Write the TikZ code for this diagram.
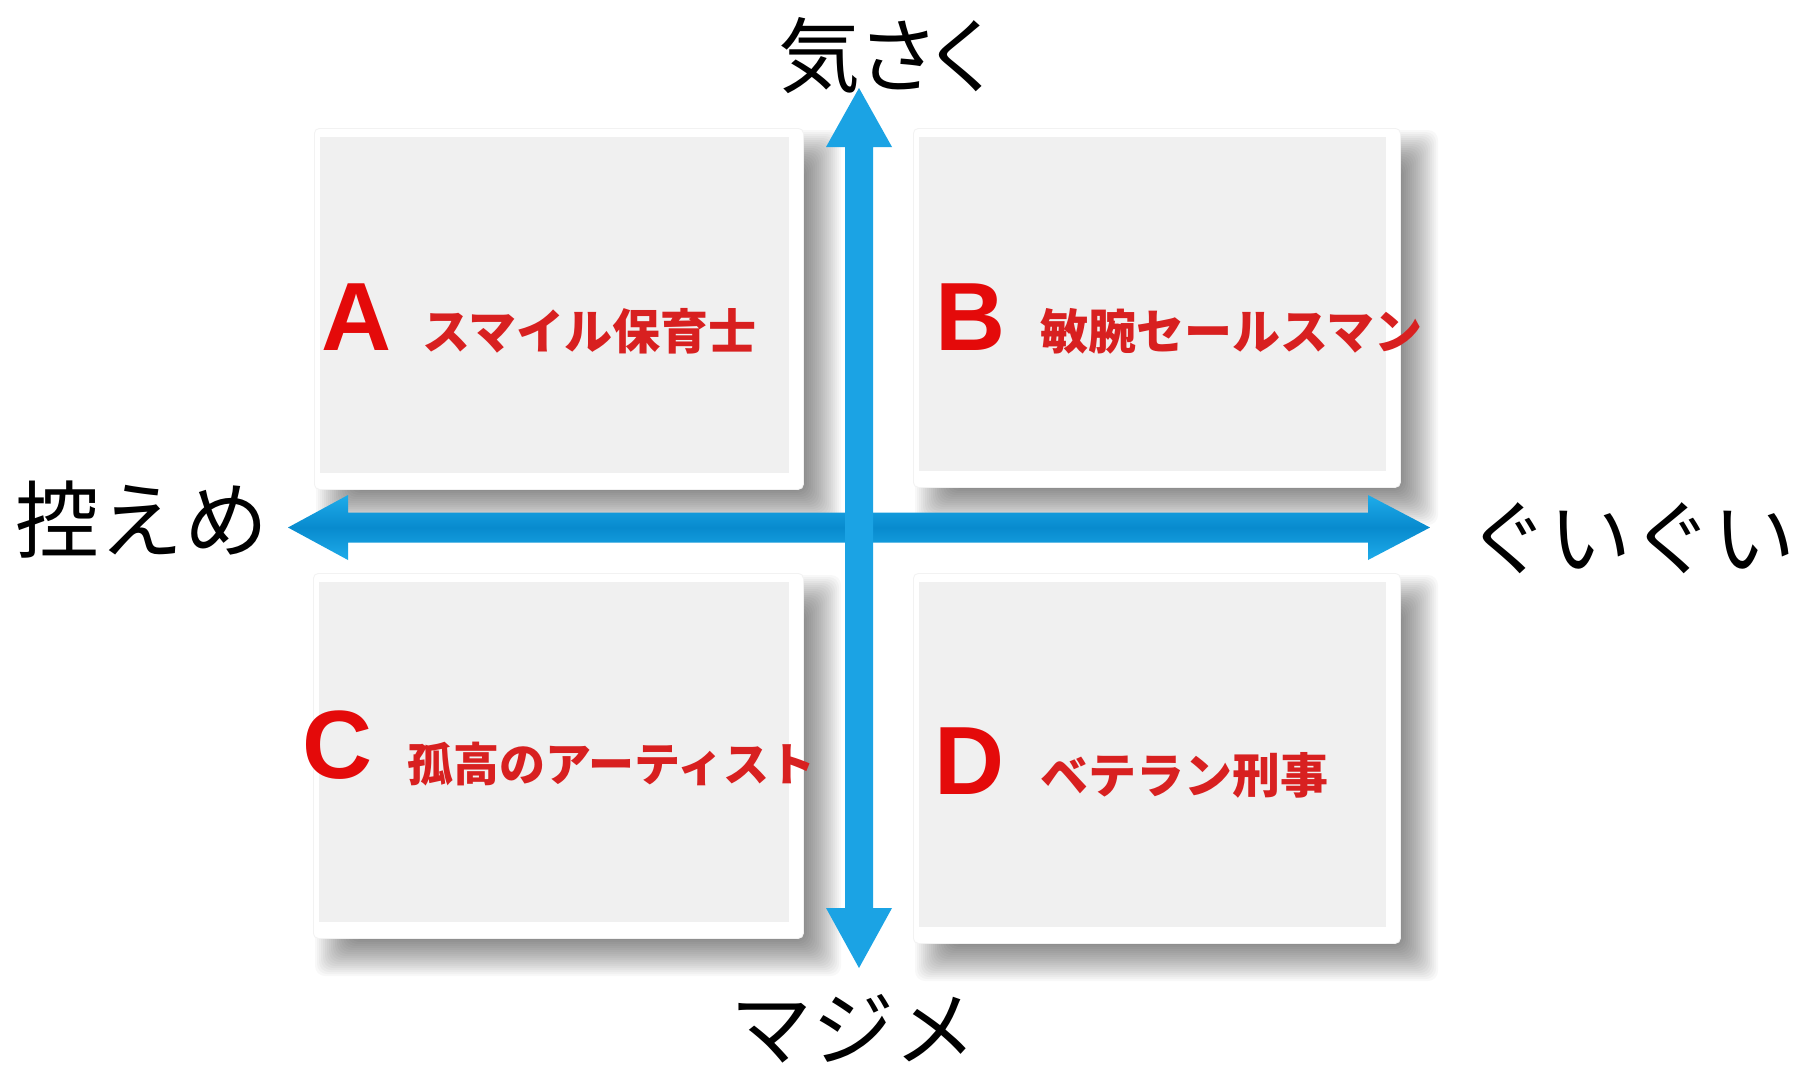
\documentclass[tikz,border=0pt]{standalone}
\usepackage{fontspec}
\setmainfont{Liberation Sans}
\newfontfamily\jp{Noto Sans CJK JP}
\newfontfamily\jpp[RawFeature=+palt]{Noto Sans CJK JP}
\definecolor{tilegray}{RGB}{240,240,240}
\definecolor{lred}{RGB}{228,10,10}
\definecolor{jred}{RGB}{216,32,32}
\definecolor{vblue}{RGB}{27,163,228}
\definecolor{hlight}{RGB}{30,172,234}
\definecolor{hdark}{RGB}{8,138,206}
\tikzset{
  tileframe/.style={fill=white, draw=black!5, line width=0.8pt, rounded corners=5pt, inner sep=0pt, anchor=north west},
  tileinner/.style={fill=tilegray, draw=none, inner sep=0pt, anchor=north west},
  letter/.style={text=lred, font=\fontsize{97}{100}\selectfont\bfseries, inner sep=0pt},
  jlabel/.style={text=jred, font=\jp\bfseries\fontsize{48}{52}\selectfont, inner sep=0pt, anchor=west},
  axislabel/.style={text=black, font=\jp\fontsize{84}{90}\selectfont, inner sep=0pt},
}
\newcommand{\qtile}[5]{%
  \foreach \k in {0,...,18}{%
    \pgfmathsetmacro\rr{-18+2*\k}%
    \fill[black, fill opacity=0.027, rounded corners=10pt] ({#2+20-\rr},{#3+20-\rr}) rectangle ({#4+20+\rr},{#5+20+\rr});
  }%
  \node[tileframe, minimum width={#4-#2}, minimum height={#5-#3}] (#1) at (#2,#3) {};
  \node[tileinner, minimum width={#4-#2-20}, minimum height={#5-#3-25}] (#1in) at ({#2+6},{#3+9}) {};
}
\begin{document}
\begin{tikzpicture}[x=1pt,y=-1pt]
\useasboundingbox[fill=white] (0,0) rectangle (1806,1071);
% quadrant tiles
\qtile{tA}{314}{128}{803}{489}
\qtile{tB}{913}{128}{1400}{487}
\qtile{tC}{313}{573}{803}{938}
\qtile{tD}{913}{573}{1400}{943}
% quadrant labels
\node[letter] (lA) at (357,317) {A};
\node[jlabel] (jA) at (422,331) {スマイル保育士};
\node[letter] (lB) at (971,317) {B};
\node[jlabel] (jB) at (1040,331) {敏腕セールスマン};
\node[letter] (lC) at (338,745) {C};
\node[jlabel, font=\jp\bfseries\fontsize{46}{50}\selectfont] (jC) at (407,764) {孤高のアーティスト};
\node[letter] (lD) at (970,761) {D};
\node[jlabel] (jD) at (1040,775) {ベテラン刑事};
% axis labels
\node[axislabel, font=\jpp\fontsize{82}{90}\selectfont] (top) at (884,56) {気さく};
\node[axislabel] (left) at (142,520) {控えめ};
\node[axislabel, font=\jp\fontsize{82}{90}\selectfont] (right) at (1631,538) {ぐいぐい};
\node[axislabel, font=\jp\fontsize{82}{90}\selectfont] (bottom) at (853,1029) {マジメ};
% axis arrows
\coordinate (hL) at (288,527.5);
\coordinate (hR) at (1430,527.5);
\coordinate (vT) at (859,88);
\coordinate (vB) at (859,968);
\shade[top color=hlight, bottom color=hlight, middle color=hdark]
  (hL) -- (348,495) -- (348,512.5) -- (1368,512.5) -- (1368,495) -- (hR)
  -- (1368,560) -- (1368,542.5) -- (348,542.5) -- (348,560) -- cycle;
\fill[vblue]
  (vT) -- (892,147) -- (873,147) -- (873,908) -- (892,908) -- (vB)
  -- (826,908) -- (845,908) -- (845,147) -- (826,147) -- cycle;
\end{tikzpicture}
\end{document}
